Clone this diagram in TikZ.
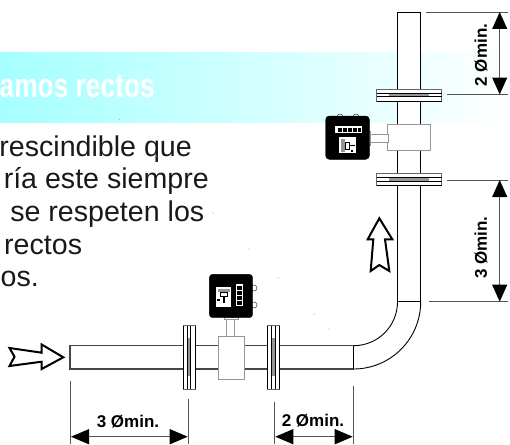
\documentclass[tikz,border=0pt]{standalone}
\usepackage{fontspec}
\setmainfont{Liberation Sans}
\definecolor{bannerc}{RGB}{165,255,255}
\definecolor{pipeg}{RGB}{70,70,70}
\definecolor{dimg}{RGB}{85,85,85}
\definecolor{bodyg}{RGB}{150,150,150}
\tikzset{
  pipeline/.style={draw=black,line width=0.9pt},
  flangeplate/.style={draw=black!60,fill=white,line width=0.8pt},
  flangeline/.style={draw=black,line width=1pt},
  strip/.style={fill=bodyg,draw=none},
  meterbody/.style={draw=bodyg,fill=white,line width=0.9pt},
  meterbox/.style={fill=black,draw=black,rounded corners=3.5pt},
  stem/.style={draw=bodyg,fill=white,line width=0.8pt},
  panel/.style={fill=white,draw=none},
  dimline/.style={draw=dimg,line width=0.9pt},
  dimarrow/.style={draw=dimg,line width=0.9pt},
  tip/.style={fill=black,draw=none},
  hollow/.style={draw=black,fill=white,line width=2pt,line join=miter,miter limit=4},
  bodytext/.style={inner sep=0pt,font=\fontsize{28.6}{28.6}\selectfont,text=black!90},
  dimtext/.style={inner sep=0pt,font=\fontsize{17}{17}\selectfont\bfseries},
  knob/.style={draw=black!70,fill=white,line width=0.6pt},
}
\begin{document}
\begin{tikzpicture}[x=1pt,y=-1pt]
\useasboundingbox (0,0) rectangle (510,444);
\shade[left color=bannerc,right color=white] (0,52) rectangle (510,122);
\node[anchor=base east,inner sep=0pt,text=white,xscale=0.775,font=\fontsize{34}{34}\selectfont\bfseries] (banner) at (155,97) {amos rectos};
\node[bodytext,anchor=base east] (t1) at (192,156) {rescindible que};
\node[bodytext,anchor=base east] (t2) at (209,188.5) {ría este siempre};
\node[bodytext,anchor=base east] (t3) at (204.5,221.7) {se respeten los};
\node[bodytext,anchor=base west] (t4) at (4,254.3) {rectos};
\node[bodytext,anchor=base west] (t5) at (0.5,286.7) {os.};
% vertical pipe
\draw[pipeline,fill=white] (397.5,12) rectangle (420.7,301.7);
\draw[black,line width=1.4pt] (397.5,301.7) -- (420.7,301.7);
% elbow
\draw[pipeline] (397.5,301.7) .. controls (397.5,326) and (378,345.7) .. (353.5,345.7);
\draw[pipeline] (420.7,301.7) .. controls (420.7,339) and (390.5,369) .. (353.5,369);
% horizontal pipe
\draw[draw=pipeg,line width=1.1pt] (353.5,345.7) -- (70,345.7) -- (70,369) -- (353.5,369);
\draw[pipeline] (353.5,345.7) -- (353.5,369);
% vertical run flanges
\foreach \yy in {89,173.7}{
  \draw[flangeplate] (376.7,\yy) rectangle (441.7,\yy+12);
  \draw[strip] (389,\yy+4.5) rectangle (429,\yy+7);
  \draw[flangeline] (376.7,\yy+4) -- (441.7,\yy+4) (376.7,\yy+7.5) -- (441.7,\yy+7.5) (376.7,\yy+12) -- (441.7,\yy+12);
}
% horizontal run flanges
\foreach \xx in {183.3,267.7}{
  \draw[flangeplate] (\xx,325) rectangle (\xx+12,389);
  \draw[strip] (\xx+4.5,338) rectangle (\xx+7,376);
  \draw[flangeline] (\xx,325.5) -- (\xx,388.5) (\xx+4,325.5) -- (\xx+4,388.5) (\xx+7.5,325.5) -- (\xx+7.5,388.5) (\xx+12,325.5) -- (\xx+12,388.5);
}
% vertical-run meter
\draw[meterbody] (387.3,124) rectangle (430.7,150.7);
\draw[stem] (369,134.5) rectangle (388,142);
\draw[stem] (368,131) rectangle (370.5,145);
\draw[knob] (340,117) circle (3);
\draw[knob] (356,117) circle (3);
\draw[meterbox] (325.7,116) rectangle (369.3,159.3);
\draw[panel] (335,126) rectangle (361.7,133.3);
\foreach \dd in {338,343,348,353}{\fill[black] (\dd,127.5) rectangle (\dd+3.6,132);}
\fill[black] (358,127.5) rectangle (360.5,132);
\draw[panel] (339,137.3) rectangle (355.7,153.3);
\fill[bodyg] (341,139) rectangle (345,152);
\draw[black,line width=0.6pt,fill=white] (345,142) rectangle (349,149);
\fill[black] (350,144.5) rectangle (354.5,146);
\fill[black] (351,150) rectangle (352.5,152);
\foreach \px/\py in {329,119.5,366,119.5,329,156,366,156}{\fill[white!70!black] (\px,\py) circle (0.5);}
% horizontal-run meter
\draw[meterbody] (218.3,336) rectangle (244.7,379);
\draw[stem] (226.7,318) rectangle (234.3,336);
\draw[stem] (224,317) rectangle (238.5,319.5);
\draw[knob] (254,288) circle (3);
\draw[knob] (254,305) circle (3);
\draw[meterbox] (209.3,274.3) rectangle (252.7,317.7);
\draw[panel] (236,284) rectangle (242.7,306);
\foreach \dd in {286,291,296,301}{\fill[black] (237.3,\dd) rectangle (241.5,\dd+3.6);}
\draw[panel] (215.7,287) rectangle (231,306.7);
\fill[bodyg] (217.5,288.5) rectangle (229.5,292);
\draw[black,line width=0.6pt,fill=white] (220.5,292) rectangle (227,296.5);
\fill[black] (223,296.5) rectangle (224.5,303);
\fill[black] (217,299) rectangle (220,300.5);
\foreach \px/\py in {213,278,249,278,213,314,249,314}{\fill[white!70!black] (\px,\py) circle (0.5);}
% flow arrows
\draw[hollow] (63.3,357.3) -- (41.7,344.5) -- (41.7,352.7) -- (9.5,348) -- (14.5,356.7) -- (9.5,366) -- (41.7,361.7) -- (41.7,369) -- cycle;
\draw[hollow] (379.3,218.3) -- (367.7,239.3) -- (373.3,239.3) -- (370.7,271) -- (379.3,265) -- (389.3,271) -- (385,239.3) -- (392.3,239.3) -- cycle;
% dimension extension coordinates
\coordinate (e1a) at (426,12); \coordinate (e1b) at (508,12);
\coordinate (e2a) at (446.7,94.5); \coordinate (e2b) at (508,94.5);
\coordinate (e3a) at (446.7,180); \coordinate (e3b) at (508,180);
\coordinate (e4a) at (429,301.7); \coordinate (e4b) at (508,301.7);
\coordinate (b1a) at (70,380.7); \coordinate (b1b) at (70,444);
\coordinate (b2a) at (188.7,399); \coordinate (b2b) at (188.7,444);
\coordinate (b3a) at (274.3,402); \coordinate (b3b) at (274.3,444);
\coordinate (b4a) at (353.7,386); \coordinate (b4b) at (353.7,444);
\foreach \a/\b in {e1a/e1b,e2a/e2b,e3a/e3b,e4a/e4b,b1a/b1b,b2a/b2b,b3a/b3b,b4a/b4b}{\draw[dimline] (\a) -- (\b);}
% vertical dimensions
\foreach \ya/\yb in {12/94.5,180/301.7}{
  \draw[dimarrow] (499.7,\ya+10) -- (499.7,\yb-10);
  \fill[tip] (499.7,\ya) -- (507.3,\ya+17) -- (492.1,\ya+17) -- cycle;
  \fill[tip] (499.7,\yb) -- (507.3,\yb-17) -- (492.1,\yb-17) -- cycle;
}
% horizontal dimensions
\foreach \xa/\xb in {71/187.7,275.3/352.7}{
  \draw[dimarrow] (\xa+10,436.7) -- (\xb-10,436.7);
  \fill[tip] (\xa,436.7) -- (\xa+18,429) -- (\xa+18,444.4) -- cycle;
  \fill[tip] (\xb,436.7) -- (\xb-18,429) -- (\xb-18,444.4) -- cycle;
}
\node[dimtext,rotate=90] (d1) at (481,55) {2 Ømin.};
\node[dimtext,rotate=90] (d2) at (481,247.5) {3 Ømin.};
\node[dimtext] (d3) at (128,422) {3 Ømin.};
\node[dimtext] (d4) at (313,421) {2 Ømin.};
\end{tikzpicture}
\end{document}
